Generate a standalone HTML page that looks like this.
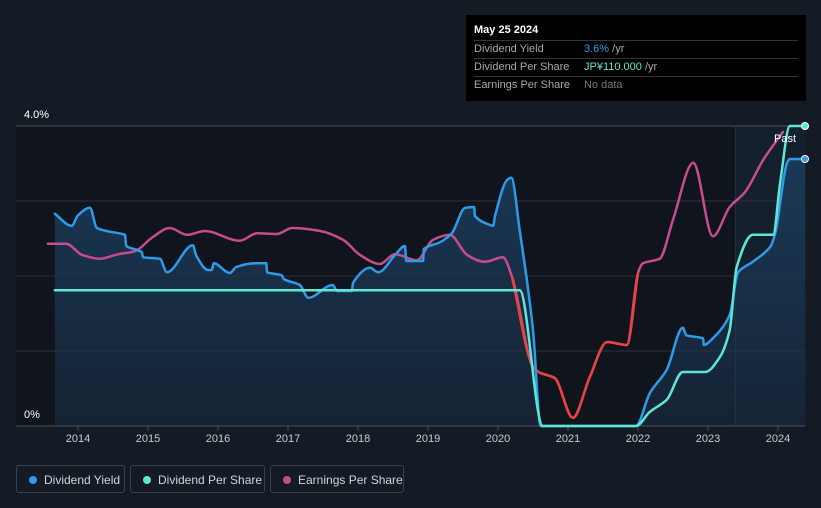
<!DOCTYPE html>
<html><head><meta charset="utf-8"><style>
body{margin:0;background:#151b25;width:821px;height:508px;overflow:hidden;font-family:"Liberation Sans",sans-serif;}
svg{position:absolute;left:0;top:0}
.tt{position:absolute;left:466px;top:15px;width:340px;height:86px;background:#000;color:#fff;font-size:11px}
.row{position:absolute;left:8px;height:17px;line-height:17px;border-top:1px solid #333;width:324px}
.row span{position:absolute;left:110px}
.lg{position:absolute;top:465px;height:28px;border:1px solid #3a414d;border-radius:3px;color:#d0d4da;font-size:12px;line-height:28px;box-sizing:border-box;padding-left:27px}
.lg i{position:absolute;left:12px;top:10px;width:8px;height:8px;border-radius:50%}
</style></head><body>
<svg id="chart" width="821" height="508"></svg>
<div class="tt">
<div style="position:absolute;left:8px;top:9px;font-weight:bold">May 25 2024</div>
<div class="row" style="top:25px;color:#aaa">Dividend Yield<span style="color:#2e9be8">3.6% <span style="position:static;color:#aaa">/yr</span></span></div>
<div class="row" style="top:43px;color:#aaa">Dividend Per Share<span style="color:#5de8d3">JP¥110.000 <span style="position:static;color:#aaa">/yr</span></span></div>
<div class="row" style="top:61px;color:#aaa">Earnings Per Share<span style="color:#777">No data</span></div>
</div>
<div class="lg" style="left:16px;width:109px"><i style="background:#2e9be8"></i>Dividend Yield</div>
<div class="lg" style="left:130px;width:135px"><i style="background:#5de8d3"></i>Dividend Per Share</div>
<div class="lg" style="left:270px;width:134px"><i style="background:#c84b8e"></i>Earnings Per Share</div>
<script>
const yearTicks=[2014,2015,2016,2017,2018,2019,2020,2021,2022,2023,2024];
const dyT=[2013.67,2013.91,2014.0,2014.17,2014.27,2014.46,2014.67,2014.69,2014.91,2014.93,2015.17,2015.27,2015.64,2015.69,2015.86,2015.91,2015.94,2016.17,2016.26,2016.53,2016.69,2016.70,2016.91,2016.94,2017.17,2017.29,2017.64,2017.70,2017.91,2017.93,2018.17,2018.29,2018.53,2018.67,2018.69,2018.93,2018.94,2019.17,2019.34,2019.53,2019.66,2019.67,2019.89,2019.93,2019.96,2020.13,2020.19,2020.31,2020.50,2020.61,2021.97,2022.17,2022.41,2022.64,2022.69,2022.93,2022.94,2023.07,2023.31,2023.43,2023.64,2023.89,2023.96,2024.13,2024.17,2024.39];
const dyV=[2.83,2.67,2.81,2.91,2.64,2.59,2.55,2.40,2.32,2.25,2.23,2.05,2.41,2.27,2.08,2.08,2.17,2.04,2.12,2.17,2.17,2.05,2.01,1.96,1.88,1.71,1.88,1.80,1.80,1.91,2.11,2.05,2.28,2.40,2.20,2.20,2.36,2.45,2.57,2.91,2.92,2.80,2.68,2.67,2.81,3.28,3.31,2.61,1.28,0,0,0.44,0.75,1.31,1.21,1.17,1.08,1.17,1.48,2.05,2.19,2.39,2.57,3.51,3.56,3.56];
const dpsT=[2013.67,2020.31,2020.64,2021.97,2022.17,2022.41,2022.64,2022.96,2023.17,2023.31,2023.41,2023.64,2023.93,2024.03,2024.17,2024.39];
const dpsV=[1.81,1.81,0,0,0.19,0.35,0.72,0.72,0.92,1.28,2.12,2.55,2.55,3.24,4.0,4.0];
const epsT=[2013.57,2013.83,2014.06,2014.31,2014.57,2014.81,2015.07,2015.31,2015.56,2015.81,2016.31,2016.56,2016.84,2017.06,2017.46,2017.79,2018.03,2018.31,2018.53,2018.84,2019.07,2019.31,2019.56,2019.81,2020.07,2020.20,2020.50,2020.60,2020.81,2021.07,2021.31,2021.56,2021.84,2022.00,2022.07,2022.31,2022.50,2022.79,2023.07,2023.31,2023.53,2023.79,2024.07];
const epsV=[2.43,2.43,2.28,2.23,2.29,2.33,2.52,2.64,2.55,2.60,2.47,2.57,2.56,2.64,2.60,2.48,2.28,2.16,2.29,2.21,2.48,2.55,2.28,2.19,2.25,1.99,0.79,0.71,0.64,0.11,0.65,1.12,1.08,2.04,2.17,2.23,2.75,3.51,2.53,2.92,3.12,3.55,3.92];
const redStart=2020.2, redEnd=2022.0, pastStart=2023.39;
const X=t=>78+(t-2014)*70, Y=v=>426-v*75;
const S=document.getElementById('chart'),NS='http://www.w3.org/2000/svg';
function mk(tag,a,name){const e=document.createElementNS(NS,tag);for(const k in a)e.setAttribute(k,a[k]);


S.appendChild(e);return e;}
function mono(T,V){const x=T.map(X),y=V.map(Y),n=x.length;if(n<2)return '';
const d=[],m=[];for(let i=0;i<n-1;i++)d.push((y[i+1]-y[i])/(x[i+1]-x[i]||1e-6));
m[0]=d[0];m[n-1]=d[n-2];for(let i=1;i<n-1;i++)m[i]=d[i-1]*d[i]<=0?0:3*(d[i-1]+d[i])/(2*d[i]/d[i-1]+2+ (d[i-1]/d[i]>0?0:0)+ 2*d[i-1]/d[i] )*0+(2/(1/d[i-1]+1/d[i]));
let p='M'+x[0].toFixed(1)+','+y[0].toFixed(1);
for(let i=0;i<n-1;i++){const h=(x[i+1]-x[i])/3;p+=' C'+(x[i]+h).toFixed(1)+','+(y[i]+m[i]*h).toFixed(1)+' '+(x[i+1]-h).toFixed(1)+','+(y[i+1]-m[i+1]*h).toFixed(1)+' '+x[i+1].toFixed(1)+','+y[i+1].toFixed(1);}
return p;}
const defs=mk('defs',{},'defs');
defs.innerHTML='<linearGradient id="ag" x1="0" y1="0" x2="0" y2="1"><stop offset="0" stop-color="#1a3c5c" stop-opacity="0.9"/><stop offset="1" stop-color="#162436" stop-opacity="0.9"/></linearGradient>';
mk('rect',{x:16,y:126,width:789,height:300,fill:'#10141c'},'plot-bg');
mk('rect',{x:X(pastStart),y:126,width:805-X(pastStart),height:300,fill:'#14202d'},'past-region');
mk('path',{d:mono(dyT,dyV)+' L'+X(dyT[dyT.length-1])+','+Y(0)+' L'+X(dyT[0])+','+Y(0)+'Z',fill:'url(#ag)'},'dividend-yield-area');
[0,1,2,3,4].forEach(v=>mk('line',{x1:16,x2:805,y1:Y(v),y2:Y(v),stroke:v==4||v==0?'#4a505a':'#2b313b','stroke-width':1},'gridline'));
mk('line',{x1:X(pastStart),x2:X(pastStart),y1:126,y2:426,stroke:'#243445'},'past-divider');
yearTicks.forEach(y=>{mk('line',{x1:X(y),x2:X(y),y1:426,y2:431,stroke:'#4a505a'},'x-tick');
const t=mk('text',{x:X(y),y:442,fill:'#c8ccd2','font-size':11,'text-anchor':'middle','font-family':'Liberation Sans'},'x-tick-label');t.textContent=y;});
let t=mk('text',{x:24,y:118,fill:'#fff','font-size':11,'font-family':'Liberation Sans'},'y-label-top');t.textContent='4.0%';
t=mk('text',{x:24,y:418,fill:'#fff','font-size':11,'font-family':'Liberation Sans'},'y-label-bottom');t.textContent='0%';
const ln=(T,V,c,n)=>mk('path',{d:mono(T,V),fill:'none',stroke:c,'stroke-width':2.5,'stroke-linejoin':'round','stroke-linecap':'round'},n);
ln(epsT,epsV,'#c84b8e','eps-line');
const rT=[],rV=[];epsT.forEach((x,i)=>{if(x>=redStart&&x<=redEnd){rT.push(x);rV.push(epsV[i]);}});
ln(rT,rV,'#e8433f','eps-negative-line');
ln(dyT,dyV,'#2e9be8','dividend-yield-line');
ln(dpsT,dpsV,'#5de8d3','dividend-per-share-line');
t=mk('text',{x:774,y:142,fill:'#fff','font-size':11,'font-family':'Liberation Sans'},'past-label');t.textContent='Past';
mk('circle',{cx:805,cy:Y(dpsV[dpsV.length-1]),r:3.5,fill:'#5de8d3',stroke:'#fff','stroke-width':1},'dps-end-dot');
mk('circle',{cx:805,cy:Y(dyV[dyV.length-1]),r:3.5,fill:'#2e9be8',stroke:'#fff','stroke-width':1},'dy-end-dot');
</script>
</body></html>
